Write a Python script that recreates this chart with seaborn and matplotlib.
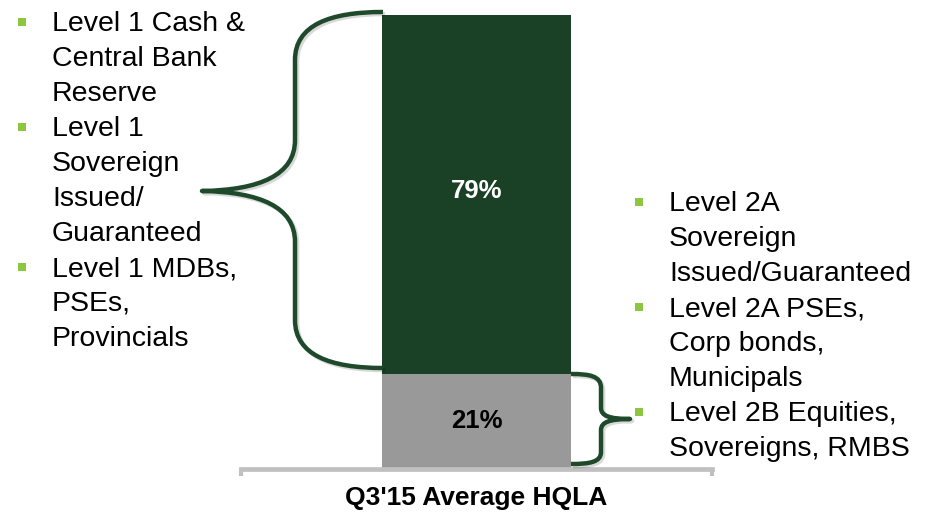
import numpy as np
import matplotlib
matplotlib.use("Agg")
import matplotlib.pyplot as plt
import matplotlib.patheffects as pe
from matplotlib.path import Path
from matplotlib.patches import PathPatch, Rectangle
import seaborn as sns

# data
category = ["Q3'15 Average HQLA"]
level1_share = [79]
level2_share = [21]
level1_items = ["Level 1 Cash &\nCentral Bank\nReserve",
                "Level 1\nSovereign\nIssued/\nGuaranteed",
                "Level 1 MDBs,\nPSEs,\nProvincials"]
level2_items = ["Level 2A\nSovereign\nIssued/Guaranteed",
                "Level 2A PSEs,\nCorp bonds,\nMunicipals",
                "Level 2B Equities,\nSovereigns, RMBS"]

dark_green = "#1a4125"
brace_green = "#1e4a2b"
gray_bar = "#999999"
bullet_green = "#8dc63f"

sns.set_style("white")
plt.rcParams['font.family'] = ['Liberation Sans', 'DejaVu Sans']

W, H = 927, 516
fig = plt.figure(figsize=(W / 100, H / 100), dpi=100)

def fx(x):
    return x / W

def fy(y):
    return 1 - y / H

# axes placed so the bottom spine is the grey base line
ax = fig.add_axes([fx(241), fy(469), (712 - 241) / W, (469 - 15) / H])

total = np.array(level1_share) + np.array(level2_share)
sns.barplot(x=category, y=total, color=dark_green, saturation=1, width=0.8, ax=ax)
sns.barplot(x=category, y=level2_share, color=gray_bar, saturation=1, width=0.8, ax=ax)
for p in ax.patches:
    p.set_edgecolor("none")

ax.set_xlim(-1, 1)
ax.set_ylim(0, 100)
ax.set_yticks([])
ax.set_xticks([-1, 1])
ax.set_xticklabels(["", ""])
ax.tick_params(axis="x", direction="out", length=5, width=3, color="#c0c0c0", bottom=True)
for s in ["top", "left", "right"]:
    ax.spines[s].set_visible(False)
ax.spines["bottom"].set_color("#c0c0c0")
ax.spines["bottom"].set_linewidth(3.4)
ax.set_ylabel("")
ax.set_xlabel(category[0], fontsize=19, fontweight="bold", color="black")
ax.xaxis.set_label_coords(0.5, -0.038)

# percentage labels
ax.text(0, level2_share[0] + level1_share[0] / 2 + 0.8, f"{level1_share[0]}%", ha="center", va="center",
        fontsize=18.5, fontweight="bold", color="white")
ax.text(0, level2_share[0] / 2, f"{level2_share[0]}%", ha="center", va="center",
        fontsize=18.5, fontweight="bold", color="black")

# braces
def brace(points, codes):
    verts = [(fx(x), fy(y)) for x, y in points]
    patch = PathPatch(Path(verts, codes), transform=fig.transFigure, fill=False,
                      edgecolor=brace_green, lw=3.2, capstyle="butt", joinstyle="round",
                      path_effects=[pe.SimpleLineShadow(offset=(1.5, -1.5), alpha=0.15), pe.Normal()])
    fig.add_artist(patch)

M, L, C = Path.MOVETO, Path.LINETO, Path.CURVE4
brace([(383, 12), (330, 12), (295, 25), (295, 60), (295, 140),
       (295, 175), (260, 190), (202, 191),
       (260, 192), (295, 207), (295, 242), (295, 320),
       (295, 355), (330, 368), (383, 368)],
      [M, C, C, C, L, C, C, C, C, C, C, L, C, C, C])
brace([(571, 374), (590, 374), (601, 376), (601, 388), (601, 408),
       (601, 416), (610, 419), (630, 419),
       (610, 419), (601, 422), (601, 430), (601, 452),
       (601, 462), (590, 464), (571, 464)],
      [M, C, C, C, L, C, C, C, C, C, C, L, C, C, C])

# bullet lists
def bullet_list(items, x_text, x_bullet, y0, step=35):
    y = y0
    for item in items:
        fig.add_artist(Rectangle((fx(x_bullet - 4), fy(y - 5)), 8 / W, 8 / H,
                                 transform=fig.transFigure, color=bullet_green, lw=0))
        for line in item.split("\n"):
            fig.text(fx(x_text), fy(y), line, fontsize=20.5, color="black", va="baseline", ha="left")
            y += step

bullet_list(level1_items, 52, 22, 31)
bullet_list(level2_items, 669, 639, 211)

fig.savefig("out.png", dpi=100)
